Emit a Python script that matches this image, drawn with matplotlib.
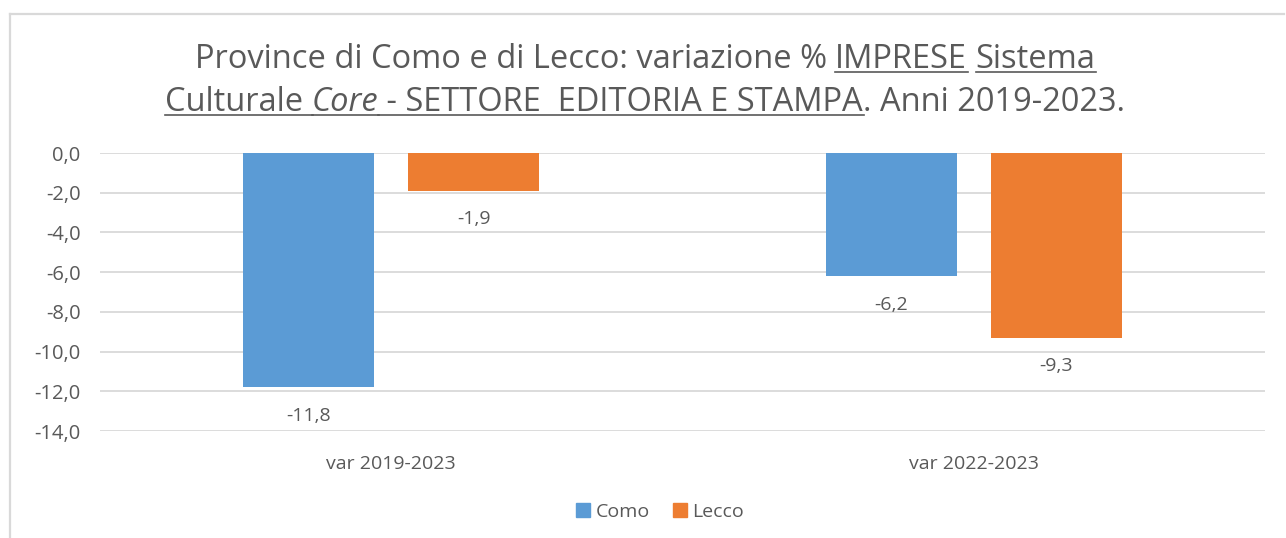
import numpy as np
import matplotlib.pyplot as plt
from matplotlib.lines import Line2D
from matplotlib.patches import Patch

# dati
categorie = ['var 2019-2023', 'var 2022-2023']
como = [-11.8, -6.2]
lecco = [-1.9, -9.3]
serie = ['Como', 'Lecco']
colori = ['#5B9BD5', '#ED7D31']
yticks = [0, -2, -4, -6, -8, -10, -12, -14]

plt.rcParams['font.family'] = ['Open Sans', 'DejaVu Sans']
grigio = '#595959'

W, H = 1286, 538
fig = plt.figure(figsize=(W/100, H/100), dpi=100)

# bordo del grafico
fig.add_artist(Line2D([10/W, 10/W], [0, 1-14/H], color='#d9d9d9', lw=1.6))
fig.add_artist(Line2D([10/W, 1284/W], [1-14/H, 1-14/H], color='#d9d9d9', lw=1.6))

ax = fig.add_axes([100/W, 1-431/H, 1165/W, (431-153)/H])
x = np.arange(len(categorie))
w = 0.225
off = 0.142
b1 = ax.bar(x-off, como, w, color=colori[0], label=serie[0], zorder=3)
b2 = ax.bar(x+off, lecco, w, color=colori[1], label=serie[1], zorder=3)

for bars, vals in [(b1, como), (b2, lecco)]:
    for b, v in zip(bars, vals):
        ax.annotate(f'{v:.1f}'.replace('.', ','), (b.get_x()+b.get_width()/2, v),
                    xytext=(0, -14), textcoords='offset points', ha='center', va='top',
                    fontsize=14, color=grigio, annotation_clip=False)

ax.set_xlim(-0.5, 1.5)
ax.set_ylim(-14, 0)
ax.set_yticks(yticks)
ax.set_yticklabels([f'{t:.1f}'.replace('.', ',') for t in yticks])
ax.set_xticks(x)
ax.set_xticklabels(categorie)
ax.tick_params(axis='y', length=0, pad=14, labelsize=14.5, labelcolor=grigio)
ax.tick_params(axis='x', length=0, pad=17, labelsize=14, labelcolor=grigio)
ax.grid(axis='y', color='#d9d9d9', lw=1.3, zorder=0)
for s in ax.spines.values():
    s.set_visible(False)

ax.legend(handles=[Patch(color=colori[0], label=serie[0]), Patch(color=colori[1], label=serie[1])],
          loc='center', bbox_to_anchor=(660/W, 1-512/H), bbox_transform=fig.transFigure,
          ncol=2, frameon=False, fontsize=14, handlelength=0.7, handleheight=0.7,
          columnspacing=1.2, handletextpad=0.3, labelcolor=grigio)

# titolo con sottolineature
fs_t = 23.5
righe = [
    [('Province di Como e di Lecco: variazione % ', 'normal', False),
     ('IMPRESE', 'normal', True), (' ', 'normal', False), ('Sistema', 'normal', True)],
    [('Culturale ', 'normal', True), ('Core', 'italic', True),
     (' - SETTORE  EDITORIA E STAMPA', 'normal', True), ('. Anni 2019-2023.', 'normal', False)],
]
baseline = [68, 111]
fig.canvas.draw()
r = fig.canvas.get_renderer()
for pezzi, yb in zip(righe, baseline):
    testi = []
    for t, st, u in pezzi:
        tt = fig.text(0, 1-yb/H, t, fontsize=fs_t, style=st, color=grigio, va='baseline', ha='left')
        testi.append(tt)
    larg = [tt.get_window_extent(r).width for tt in testi]
    x0 = 645 - sum(larg)/2
    for tt, lw_, (t, st, u) in zip(testi, larg, pezzi):
        tt.set_position((x0/W, 1-yb/H))
        if u:
            fig.add_artist(Line2D([x0/W, (x0+lw_+1)/W], [1-(yb+4)/H]*2, color=grigio, lw=1.2))
        x0 += lw_

fig.savefig('out.png', dpi=100)
